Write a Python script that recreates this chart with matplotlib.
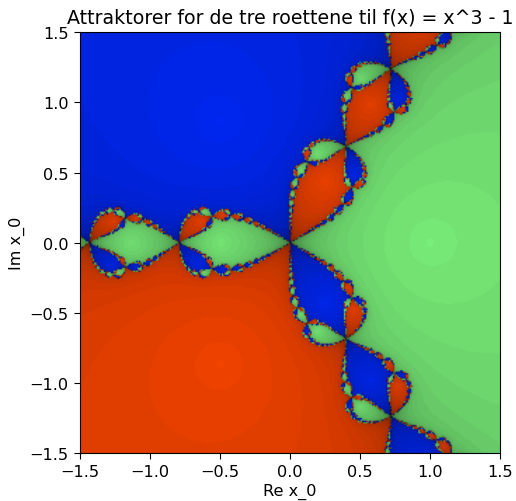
import numpy as np
import matplotlib
matplotlib.use('Agg')
import matplotlib.pyplot as plt

# the three roots of x^3 - 1 and the colour of each basin
roots = [1 + 0j, -0.5 + 0.8660254j, -0.5 - 0.8660254j]
root_colors = [[0.49, 0.96, 0.49], [0.0, 0.16, 0.98], [0.98, 0.27, 0.0]]
tick_values = [-1.5, -1.0, -0.5, 0.0, 0.5, 1.0, 1.5]

grid_size = 300
max_iter = 40
tol = 8e-4

re = np.linspace(-1.5, 1.5, grid_size)
im = np.linspace(-1.5, 1.5, grid_size)
x = re[None, :] + 1j * im[:, None]
x[x == 0] = 1e-12

img = np.zeros((grid_size, grid_size, 3))
done = np.zeros(x.shape, dtype=bool)
for n in range(max_iter):
    for r, c in zip(roots, root_colors):
        hit = ~done & (np.abs(x - r) < tol)
        img[hit] = np.array(c) * (1 - n / max_iter)
        done |= hit
    x = x - (x**3 - 1) / (3 * x**2)

fig = plt.figure(figsize=(5.16, 5.02), dpi=100)
ax = fig.add_axes([0.1545, 0.0955, 0.815, 0.838])
ax.imshow(img, origin='lower', extent=[-1.5, 1.5, -1.5, 1.5], interpolation='bilinear', aspect='auto')
ax.set_xticks(tick_values)
ax.set_yticks(tick_values)
ax.tick_params(labelsize=11.6, length=4.5, pad=3.6)
ax.set_xlabel('Re x_0', fontsize=11.6, labelpad=2.5)
ax.set_ylabel('Im x_0', fontsize=11.6, labelpad=3)
ax.set_title('Attraktorer for de tre roettene til f(x) = x^3 - 1', fontsize=13.7, pad=7)
fig.savefig('out.png', dpi=100)
